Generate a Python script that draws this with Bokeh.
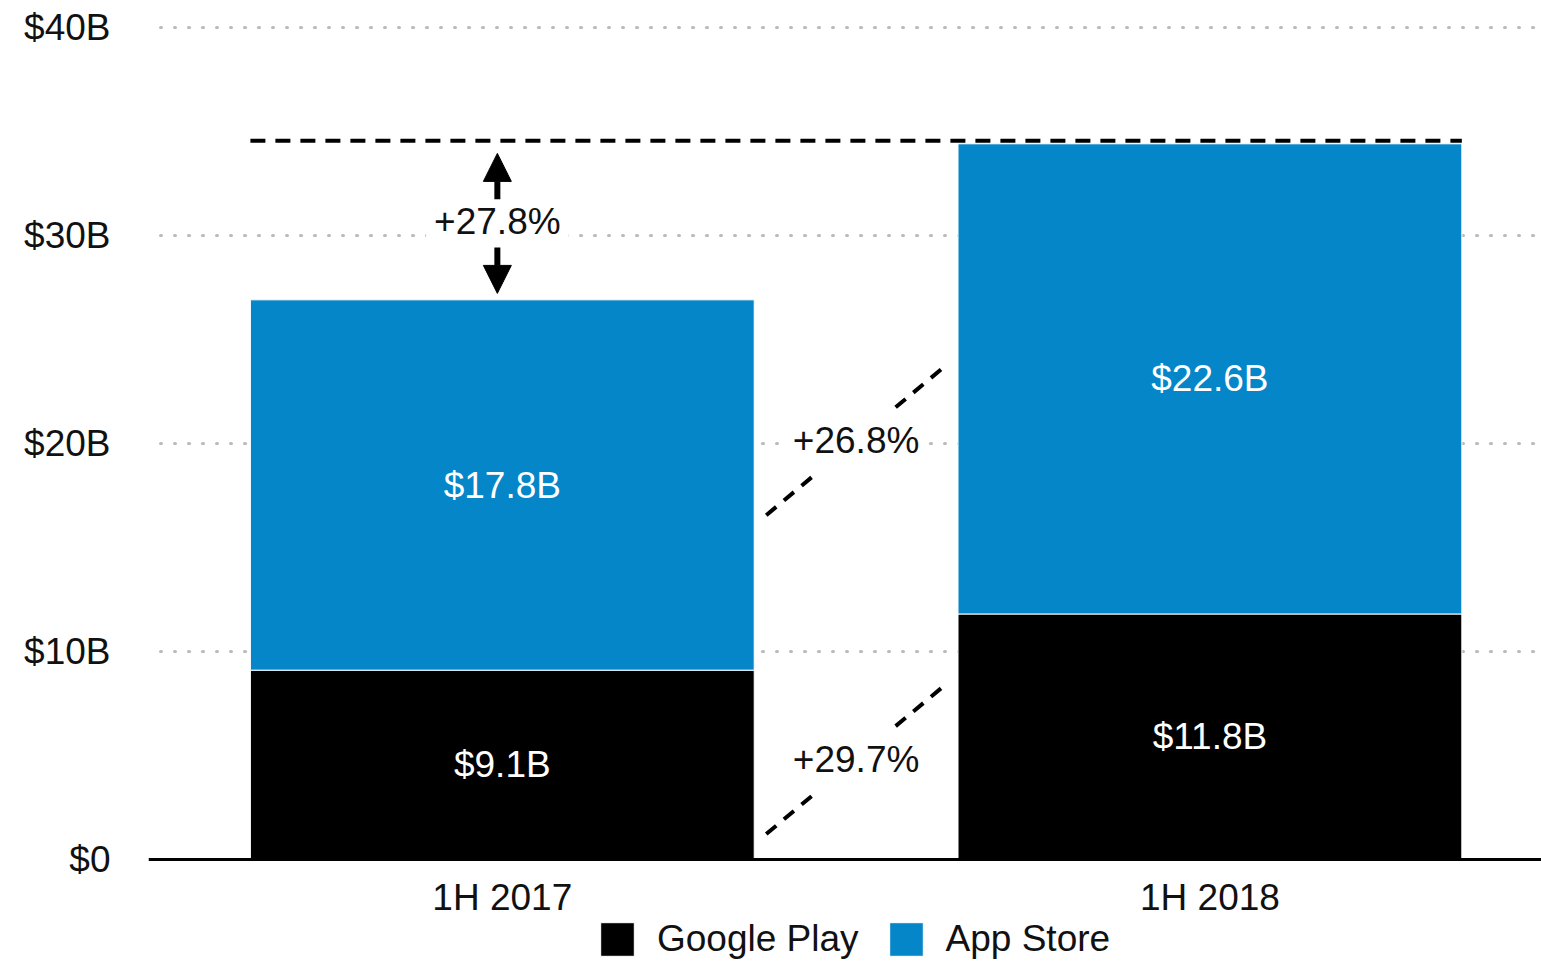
from bokeh.plotting import figure
from bokeh.models import (ColumnDataSource, FixedTicker, Arrow, NormalHead, Legend,
                          LegendItem, Range1d, Span)
from bokeh.core.properties import value
from bokeh.embed import file_html
from bokeh.resources import INLINE

# ---------------- data ----------------
periods = ["1H 2017", "1H 2018"]
google_play = [9.1, 11.8]
app_store = [17.8, 22.6]
gp_labels = ["$9.1B", "$11.8B"]
as_labels = ["$17.8B", "$22.6B"]
total_growth_label = "+27.8%"
gp_growth_label = "+29.7%"
as_growth_label = "+26.8%"
y_ticks = [0, 10, 20, 30, 40]
y_tick_labels = ["$0", "$10B", "$20B", "$30B", "$40B"]

# ---------------- style ----------------
FONT = "Liberation Sans"
BLUE = "#0586C9"
TXT = "#111111"
FS = "37px"
BAR_W = 0.712

xs = list(range(len(periods)))
totals = [g + a for g, a in zip(google_play, app_store)]

# frame extends below y=0 so that the category labels and legend sit inside it
p = figure(frame_width=1393, frame_height=957, x_range=Range1d(-0.5, 1.4686),
           y_range=Range1d(-5.0, 41), x_axis_location=None,
           output_backend="svg", toolbar_location=None,
           min_border_left=148, min_border_right=0, min_border_top=6, min_border_bottom=0)
p.outline_line_color = None
p.background_fill_color = "white"
p.xgrid.visible = False

src = ColumnDataSource(dict(
    x=xs, gp=google_play, top=totals, zero=[0] * len(xs), period=periods,
    gp_mid=[g / 2 for g in google_play],
    as_mid=[g + a / 2 for g, a in zip(google_play, app_store)],
    gp_lab=gp_labels, as_lab=as_labels))

r_gp = p.vbar(x="x", width=BAR_W, bottom=0, top="gp", source=src,
              fill_color="black", line_color="white", line_width=1)
r_as = p.vbar(x="x", width=BAR_W, bottom="gp", top="top", source=src,
              fill_color=BLUE, line_color="white", line_width=1)

p.text(x="x", y="gp_mid", text="gp_lab", source=src, text_color="white",
       text_align="center", text_baseline="middle", text_font=value(FONT), text_font_size=FS)
p.text(x="x", y="as_mid", text="as_lab", source=src, text_color="white",
       text_align="center", text_baseline="middle", text_font=value(FONT), text_font_size=FS)

# baseline (x axis line) and category labels
p.add_layout(Span(location=0, dimension="width", line_color="black", line_width=3))
p.text(x="x", y="zero", text="period", source=src, text_color=TXT, y_offset=38,
       text_align="center", text_baseline="middle", text_font=value(FONT), text_font_size=FS)

# dashed reference line at the 1H 2018 total
ref_y = totals[1] + 0.15
p.line(x=[xs[0] - BAR_W / 2, xs[1] + BAR_W / 2], y=[ref_y, ref_y],
       line_color="black", line_width=4, line_dash="15 10")

# arrows showing total growth
ax = xs[0] - 0.007
mid = (totals[0] + totals[1]) / 2
p.add_layout(Arrow(x_start=ax, y_start=mid + 1.08, x_end=ax, y_end=totals[1] - 0.46,
                   line_width=6, line_color="black",
                   end=NormalHead(size=28, fill_color="black", line_color="black")))
p.add_layout(Arrow(x_start=ax, y_start=mid - 1.23, x_end=ax, y_end=totals[0] + 0.31,
                   line_width=6, line_color="black",
                   end=NormalHead(size=28, fill_color="black", line_color="black")))

# diagonal dashed connectors
cx = (xs[0] + xs[1]) / 2
gp_cy = (google_play[0] / 2 + google_play[1] / 2) / 2 - 0.4
as_cy = ((google_play[0] + app_store[0] / 2) + (google_play[1] + app_store[1] / 2)) / 2 - 0.4
dx, dy = 0.127, 3.6
seg = dict(x0=[], y0=[], x1=[], y1=[])
for cy in (gp_cy, as_cy):
    for t0, t1 in ((0.0, 0.28), (0.72, 1.0)):
        seg["x0"].append(cx - dx + 2 * dx * t0)
        seg["x1"].append(cx - dx + 2 * dx * t1)
        seg["y0"].append(cy - dy + 2 * dy * t0)
        seg["y1"].append(cy - dy + 2 * dy * t1)
p.segment(x0="x0", y0="y0", x1="x1", y1="y1", source=ColumnDataSource(seg),
          line_color="black", line_width=4, line_dash="13 10")

# growth labels
gsrc = ColumnDataSource(dict(x=[ax, cx, cx], y=[mid, gp_cy, as_cy],
                             t=[total_growth_label, gp_growth_label, as_growth_label]))
p.text(x="x", y="y", text="t", source=gsrc, text_color=TXT, text_align="center",
       text_baseline="middle", text_font=value(FONT), text_font_size=FS,
       background_fill_color="white", padding=8)

# y axis
p.yaxis.ticker = FixedTicker(ticks=y_ticks)
p.yaxis.major_label_overrides = {t: lab for t, lab in zip(y_ticks, y_tick_labels)}
p.yaxis.axis_line_color = None
p.yaxis.major_tick_line_color = None
p.yaxis.minor_tick_line_color = None
p.yaxis.major_tick_out = 0
p.yaxis.major_label_text_font = FONT
p.yaxis.major_label_text_font_size = FS
p.yaxis.major_label_text_color = TXT
p.yaxis.major_label_standoff = 38

p.ygrid.ticker = FixedTicker(ticks=y_ticks)
p.ygrid.grid_line_color = "#BBBBBB"
p.ygrid.grid_line_width = 3
p.ygrid.grid_line_dash = "1 13"
p.ygrid.grid_line_cap = "round"
p.ygrid.grid_line_dash_offset = 2

legend = Legend(items=[LegendItem(label="Google Play", renderers=[r_gp]),
                       LegendItem(label="App Store", renderers=[r_as])],
                orientation="horizontal", location=(448, 3),
                glyph_width=42, glyph_height=42, label_standoff=19, spacing=26,
                label_text_font=FONT, label_text_font_size=FS, label_text_color=TXT,
                border_line_color=None, background_fill_alpha=0, padding=0, margin=0)
p.add_layout(legend, "center")

open("out.html", "w").write(file_html(p, INLINE))
